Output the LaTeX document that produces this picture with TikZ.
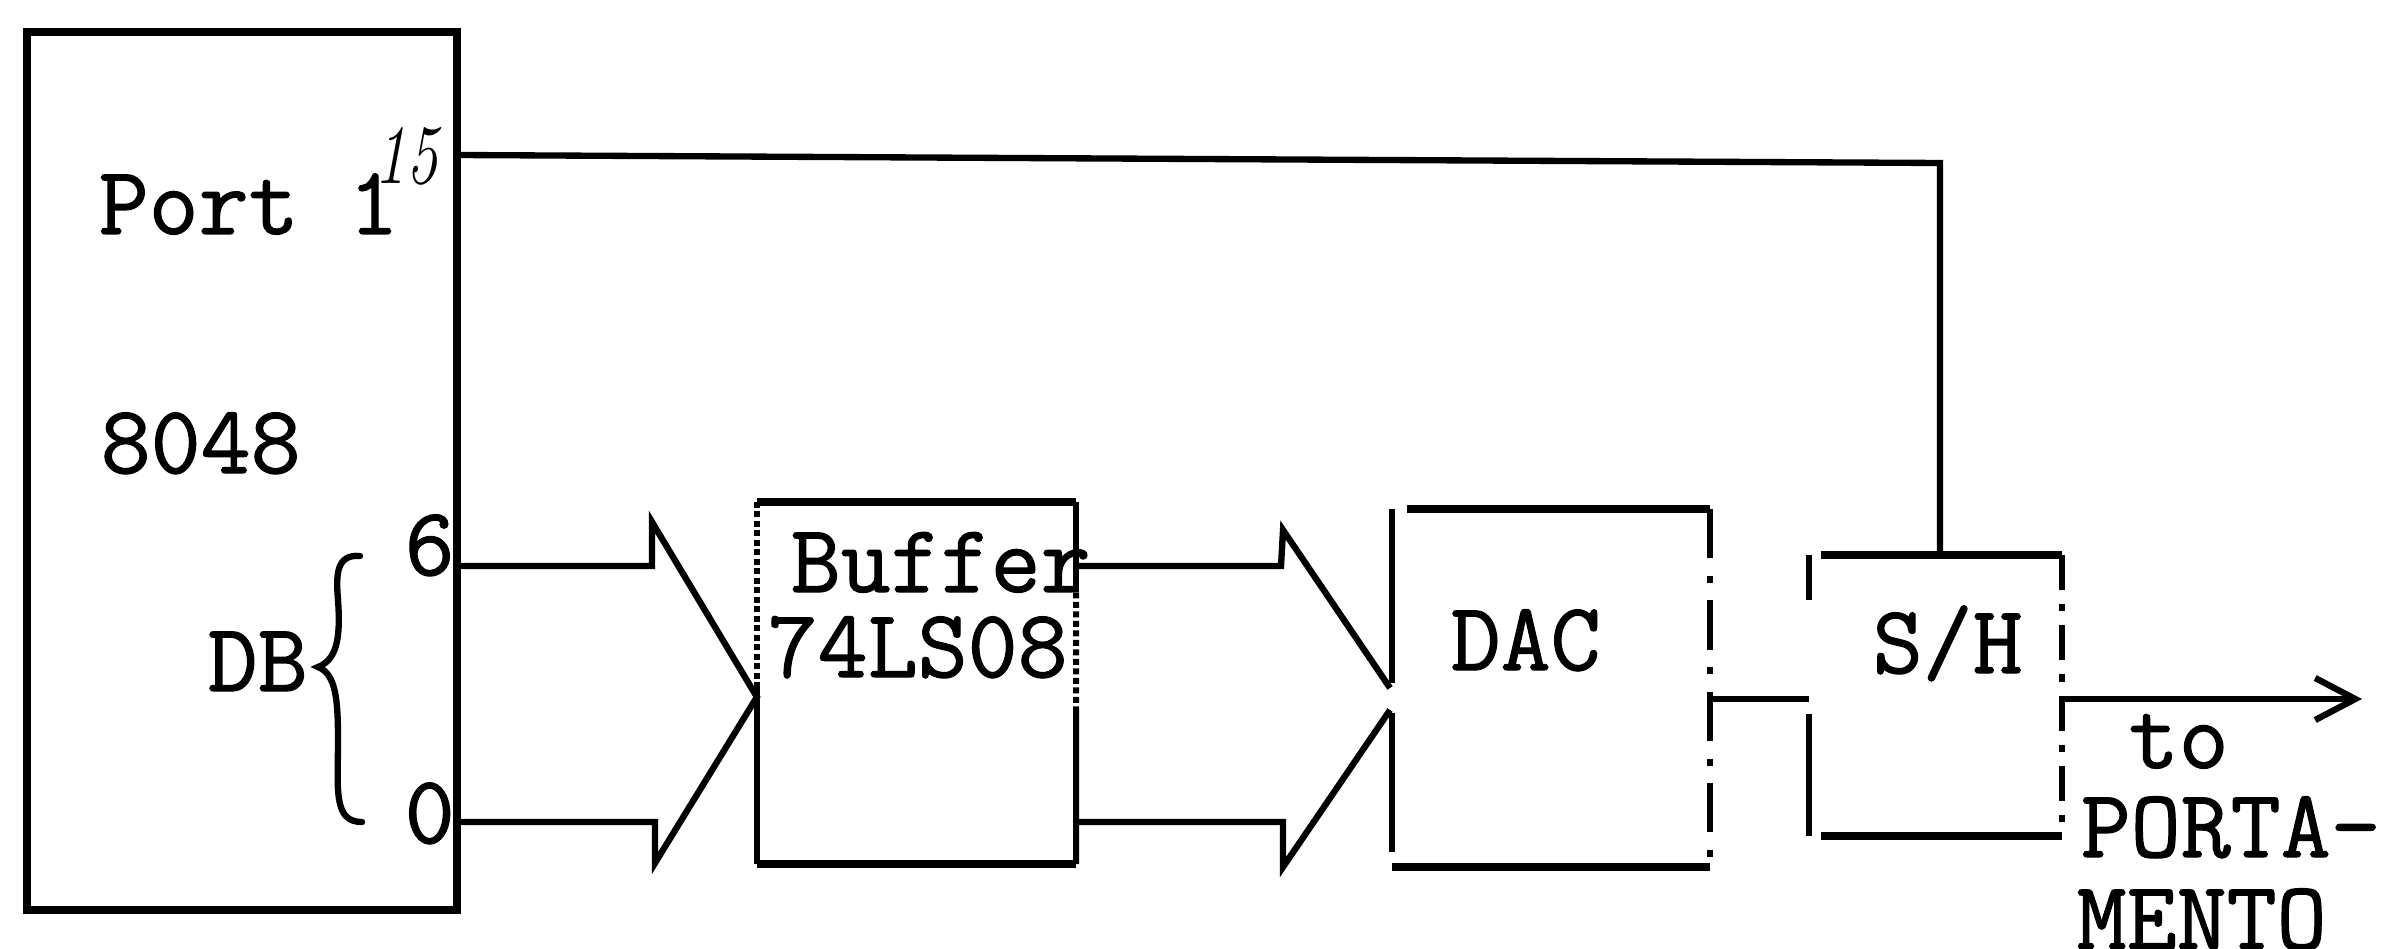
\documentclass[tikz,border=0pt]{standalone}
\usepackage{fontspec}
\usetikzlibrary{arrows.meta,calc}
\newfontfamily\twfont{Latin Modern Mono}[FakeBold=1.2]
\newcommand\tw{\twfont\fontsize{27.6pt}{30pt}\selectfont}
\begin{document}
\begin{tikzpicture}[x=0.01cm,y=-0.01cm,
  blk/.style={draw=none,inner sep=0pt,outer sep=0pt},
  hedge/.style={line width=2.2pt},
  vedge/.style={line width=1.7pt},
  wire/.style={line width=1.8pt},
  lbl/.style={inner sep=0pt,anchor=base west,font=\tw}]
\useasboundingbox (0,0) rectangle (2386,949);
\fill[white] (0,0) rectangle (2386,949);

% blocks
\node[blk,minimum width=4.30cm,minimum height=8.78cm] (mcu) at (242,471) {};
\node[blk,minimum width=3.19cm,minimum height=3.62cm] (buf) at (916.5,683) {};
\node[blk,minimum width=3.18cm,minimum height=3.58cm] (dac) at (1551,688) {};
\node[blk,minimum width=2.53cm,minimum height=2.81cm] (sh) at (1935.5,695.5) {};

% 8048 box
\draw[hedge] (mcu.north west) rectangle (mcu.south east);

% buffer box
\draw[hedge] (buf.north west) -- (buf.north east);
\draw[hedge] (buf.south west) -- (buf.south east);
\draw[vedge,densely dotted] (buf.north west) -- (buf.west);
\draw[vedge] (buf.west) -- (buf.south west);
\draw[vedge] (buf.north east) -- ($(buf.north east)!0.25!(buf.south east)$);
\draw[vedge,densely dotted] ($(buf.north east)!0.25!(buf.south east)$) -- ($(buf.north east)!0.58!(buf.south east)$);
\draw[vedge] ($(buf.north east)!0.58!(buf.south east)$) -- (buf.south east);

% DAC box
\draw[hedge] ($(dac.north west)+(15,0)$) -- (dac.north east);
\draw[hedge] (dac.south west) -- (dac.south east);
\draw[vedge] (dac.north west) -- ($(dac.west)+(0,-5)$);
\draw[vedge] ($(dac.west)+(0,25)$) -- ($(dac.south west)+(0,-15)$);
\draw[vedge,dash pattern=on 14pt off 5pt on 2pt off 5pt] (dac.north east) -- (dac.south east);

% S/H box
\draw[hedge] ($(sh.north west)+(12,0)$) -- (sh.north east);
\draw[hedge] ($(sh.south west)+(12,0)$) -- (sh.south east);
\draw[vedge] (sh.north west) -- ++(0,45);
\draw[vedge] (sh.south west) -- ++(0,-122);
\draw[vedge,dash pattern=on 10pt off 4pt on 2pt off 4pt] (sh.north east) -- (sh.south east);

% coordinates
\coordinate (y15) at (0,155);
\coordinate (corner) at (1940,163);
\coordinate (b6) at (0,566);
\coordinate (b0) at (0,822);
\coordinate (ya) at (0,699);
\coordinate (out) at (2362,699);

% Port 1 line to S/H
\draw[wire] (mcu.east |- y15) -- (corner) -- (corner |- sh.north);

% bus to buffer
\draw[wire,line join=miter] (mcu.east |- b6) -- (652,566) -- (652,522) -- (buf.west |- 0,697)
  -- (655,863) -- (655,822) -- (mcu.east |- b0);

% bus to DAC
\draw[wire,line join=miter] (buf.east |- b6) -- (1281,566) -- (1283,530) -- (1390,688);
\draw[wire,line join=miter] (1390,710) -- (1283,867) -- (1283,822) -- (buf.east |- b0);

% DAC to S/H
\draw[wire] (dac.east |- ya) -- (sh.west |- ya);

% output
\draw[wire,-{Straight Barb[length=0.4cm,width=0.42cm,line width=1.8pt]}] (sh.east |- ya) -- (out);

% brace
\draw[line width=1.8pt,line cap=round] (360,556) .. controls (336,554) and (336,575) .. (338,600)
  .. controls (341,640) and (336,660) .. (318,667)
  .. controls (336,674) and (338,700) .. (338,740)
  .. controls (338,790) and (333,822) .. (362,822);

% labels
\node[lbl] (port) at (98,234) {Port 1};
\node[inner sep=0pt,anchor=base west,font=\fontsize{24pt}{24pt}\selectfont\itshape] (pin15) at (374,184) {\scalebox{0.75}[1]{15}};
\node[lbl] (chip) at (100,473) {8048};
\node[lbl] (six) at (404,575) {6};
\node[lbl] (zero) at (404,843) {0};
\node[lbl] (db) at (207,691) {DB};
\node[lbl] (bufa) at (790,592) {Buffer};
\node[lbl] (bufb) at (767,677) {74LS08};
\node[lbl] (daclbl) at (1450,670) {DAC};
\node[lbl] (shlbl) at (1872,673) {S/H};
\node[lbl] (to) at (2128,768) {to};
\node[lbl] (porta) at (2080,857) {PORTA-};
\node[lbl] (mento) at (2076,949) {MENTO};
\end{tikzpicture}
\end{document}
